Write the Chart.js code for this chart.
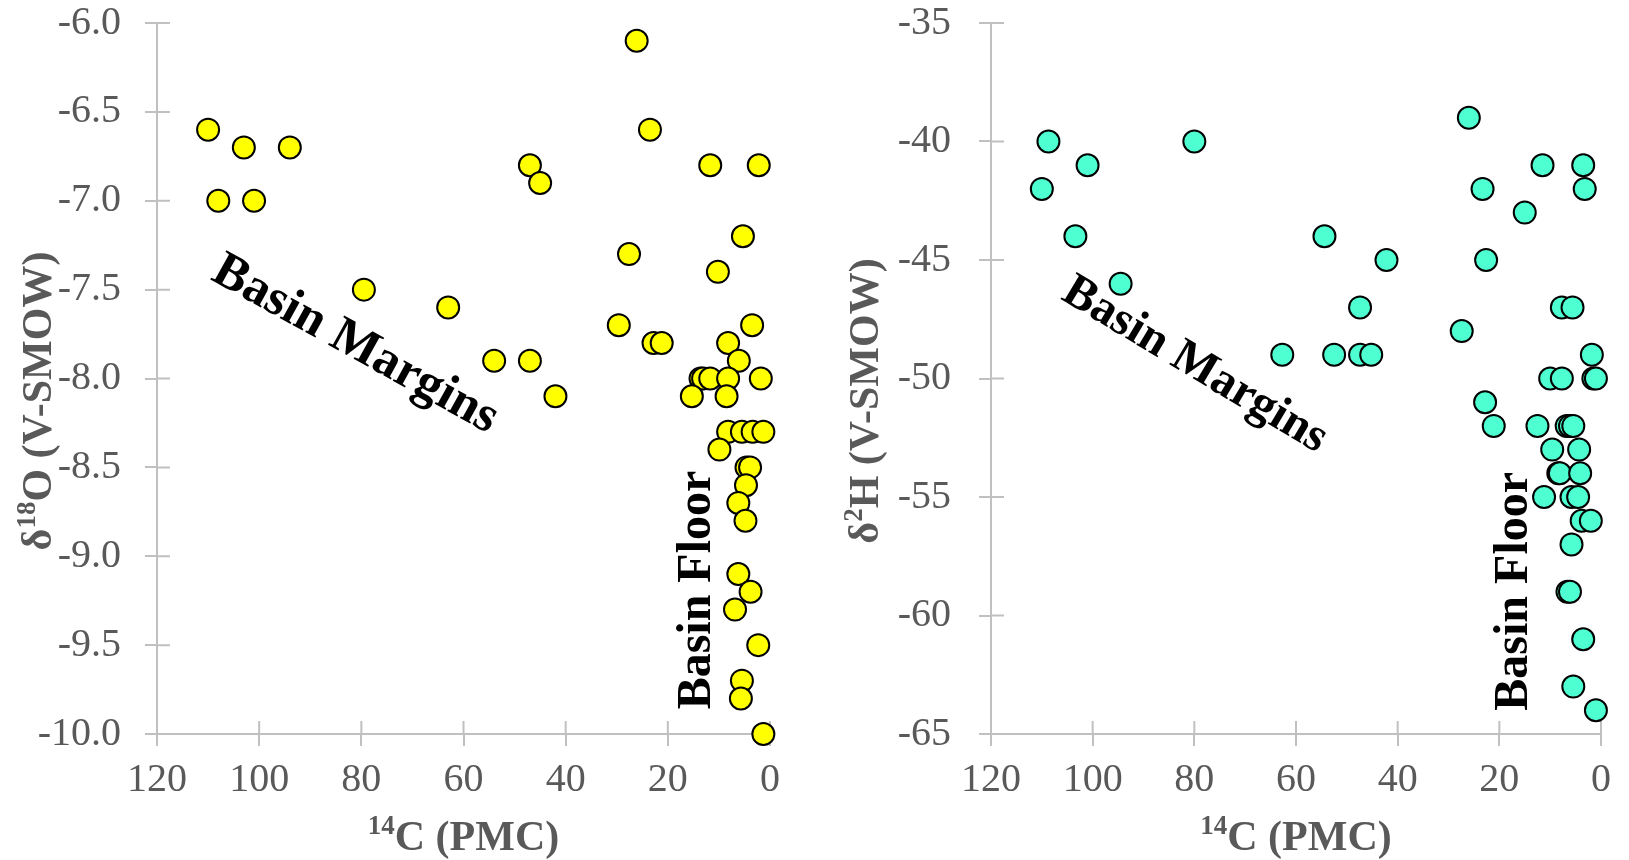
<!DOCTYPE html>
<html>
<head>
<meta charset="utf-8">
<script src="https://cdn.jsdelivr.net/npm/chart.js@4.4.1/dist/chart.umd.min.js"></script>
<style>
  html, body { margin: 0; padding: 0; background: #fff; }
  #wrap { position: relative; width: 1629px; height: 860px; }
  canvas { position: absolute; top: 0; }
</style>
</head>
<body>
<div id="wrap">
  <canvas id="oxygen" width="815" height="860" style="left:0"></canvas>
  <canvas id="deuterium" width="814" height="860" style="left:815px"></canvas>
</div>
<script>
// 14C (PMC) against d18O and d2H
const pmcO = [110, 103, 94, 108, 101, 79.5, 63, 54, 47, 42, 47, 45, 26.1, 23.5, 11.7,
  2.2, 5.3, 27.6, 10.2, 29.6, 3.5, 22.8, 21.2, 8.2, 6.1, 13.6, 13.1, 11.7, 8.2, 1.8,
  15.3, 8.5, 8.2, 5.5, 3.4, 1.3, 9.9, 4.6, 3.9, 4.7, 6.2, 4.8, 6.2, 3.8, 6.85,
  2.3, 5.5, 5.7, 1.3];
const d18O = [-6.6, -6.7, -6.7, -7.0, -7.0, -7.5, -7.6, -7.9, -7.9, -8.1, -6.8, -6.9, -6.1, -6.6, -6.8,
  -6.8, -7.2, -7.3, -7.4, -7.7, -7.7, -7.8, -7.8, -7.8, -7.9, -8.0, -8.0, -8.0, -8.0, -8.0,
  -8.1, -8.1, -8.3, -8.3, -8.3, -8.3, -8.4, -8.5, -8.5, -8.6, -8.7, -8.8, -9.1, -9.2, -9.3,
  -9.5, -9.7, -9.8, -10.0];

const pmcH = [108.7, 101, 110, 103.4, 94.5, 80, 54.4, 42.2, 47.4, 62.7, 52.5, 47.4, 45.2, 26, 11.5,
  3.5, 23.3, 3.2, 15, 22.6, 7.7, 5.6, 27.4, 1.8, 10, 7.7, 1.5, 1.0, 22.8, 21.1,
  12.5, 6.75, 6.1, 5.45, 9.6, 4.3, 8.4, 8.1, 4.1, 11.2, 5.8, 4.5, 3.8, 2.0, 5.8,
  6.6, 6.1, 3.5, 5.45, 1.0];
const d2H = [-40, -41, -42, -44, -46, -40, -44, -45, -47, -49, -49, -49, -49, -39, -41,
  -41, -42, -42, -43, -45, -47, -47, -48, -49, -50, -50, -50, -50, -51, -52,
  -52, -52, -52, -52, -53, -53, -54, -54, -54, -55, -55, -55, -56, -56, -57,
  -59, -59, -61, -63, -64];

const pmcTicks = [120, 100, 80, 60, 40, 20, 0];
const oTicks = [-6.0, -6.5, -7.0, -7.5, -8.0, -8.5, -9.0, -9.5, -10.0];
const hTicks = [-35, -40, -45, -50, -55, -60, -65];

const axisColor = '#c0c0c0';
const labelColor = '#595959';
const serif = "'Liberation Serif', 'Times New Roman', serif";

Chart.defaults.font.family = serif;

// tick marks cross the axis lines, draw the inner half here
const crossTicks = {
  id: 'crossTicks',
  beforeDatasetsDraw(chart) {
    const { ctx, chartArea, scales } = chart;
    ctx.save();
    ctx.strokeStyle = axisColor;
    ctx.lineWidth = 2;
    ctx.beginPath();
    scales.x.ticks.forEach((t, i) => {
      const px = scales.x.getPixelForTick(i);
      ctx.moveTo(px, chartArea.bottom);
      ctx.lineTo(px, chartArea.bottom - 13);
    });
    scales.y.ticks.forEach((t, i) => {
      const py = scales.y.getPixelForTick(i);
      ctx.moveTo(chartArea.left, py);
      ctx.lineTo(chartArea.left + 13, py);
    });
    ctx.stroke();
    ctx.restore();
  }
};

// text with superscript parts, centred on cx, baseline at y
function drawRich(ctx, parts, cx, y) {
  const widths = parts.map(p => {
    ctx.font = 'bold ' + (p[1] ? 27 : 42) + 'px ' + serif;
    return ctx.measureText(p[0]).width;
  });
  let x = cx - widths.reduce((a, b) => a + b, 0) / 2;
  parts.forEach((p, i) => {
    ctx.font = 'bold ' + (p[1] ? 27 : 42) + 'px ' + serif;
    ctx.fillText(p[0], x, p[1] ? y - 16 : y);
    x += widths[i];
  });
}

const isoText = {
  id: 'isoText',
  afterDatasetsDraw(chart, args, opts) {
    const { ctx, chartArea, scales } = chart;
    ctx.save();
    ctx.textAlign = 'left';
    ctx.textBaseline = 'alphabetic';
    ctx.fillStyle = labelColor;
    drawRich(ctx, opts.xTitle, (chartArea.left + chartArea.right) / 2, 850);

    ctx.save();
    ctx.translate(opts.yTitleX, 401);
    ctx.rotate(-Math.PI / 2);
    drawRich(ctx, opts.yTitle, 0, 0);
    ctx.restore();

    ctx.fillStyle = '#000';
    ctx.textAlign = 'center';

    ctx.save();
    ctx.font = 'bold ' + opts.margins[3] + 'px ' + serif;
    ctx.translate(scales.x.getPixelForValue(opts.margins[0]), scales.y.getPixelForValue(opts.margins[1]));
    ctx.rotate(opts.margins[2] * Math.PI / 180);
    ctx.textBaseline = 'middle';
    ctx.fillText('Basin Margins', 0, 0);
    ctx.restore();

    ctx.save();
    ctx.font = 'bold 48px ' + serif;
    ctx.translate(scales.x.getPixelForValue(opts.floor[0]), scales.y.getPixelForValue(opts.floor[1]));
    ctx.rotate(-Math.PI / 2);
    ctx.fillText('Basin Floor', 0, 0);
    ctx.restore();

    ctx.restore();
  }
};

function makeChart(id, xs, ys, yTicks, yFmt, fill, layout) {
  return new Chart(document.getElementById(id), {
    type: 'scatter',
    data: {
      datasets: [{
        data: xs.map((x, i) => ({ x: x, y: ys[i] })),
        backgroundColor: fill,
        borderColor: '#000',
        borderWidth: 2,
        pointRadius: 11,
        pointHoverRadius: 11,
        clip: false
      }]
    },
    options: {
      responsive: false,
      animation: false,
      devicePixelRatio: 1,
      layout: { autoPadding: false, padding: { left: 0, top: 23, right: layout.right, bottom: 0 } },
      plugins: {
        legend: { display: false },
        tooltip: { enabled: false },
        isoText: layout.text
      },
      scales: {
        x: {
          type: 'linear',
          reverse: true,
          min: 0,
          max: 120,
          afterBuildTicks: s => { s.ticks = pmcTicks.map(v => ({ value: v })); },
          afterFit: s => { s.height = 126; s.paddingLeft = 0; s.paddingRight = 0; },
          grid: { drawOnChartArea: false, tickLength: 12, color: axisColor, lineWidth: 2 },
          border: { color: axisColor, width: 2 },
          ticks: { color: labelColor, font: { size: 40 }, padding: 10, maxRotation: 0 }
        },
        y: {
          type: 'linear',
          min: yTicks[yTicks.length - 1],
          max: yTicks[0],
          afterBuildTicks: s => { s.ticks = yTicks.map(v => ({ value: v })); },
          afterFit: s => { s.width = layout.axisWidth; s.paddingTop = 0; s.paddingBottom = 0; },
          grid: { drawOnChartArea: false, tickLength: 12, color: axisColor, lineWidth: 2 },
          border: { color: axisColor, width: 2 },
          ticks: { color: labelColor, font: { size: 40 }, padding: layout.tickPad, callback: yFmt }
        }
      }
    },
    plugins: [crossTicks, isoText]
  });
}

makeChart('oxygen', pmcO, d18O, oTicks, v => v.toFixed(1), '#ffff00', {
  right: 45, axisWidth: 157, tickPad: 24,
  text: {
    xTitle: [['14', true], ['C (PMC)']],
    yTitle: [['δ'], ['18', true], ['O (V-SMOW)']],
    yTitleX: 51,
    margins: [81.2, -7.81, 29, 51],
    floor: [11.7, -9.19]
  }
});

makeChart('deuterium', pmcH, d2H, hTicks, v => v, '#4effd2', {
  right: 28, axisWidth: 176, tickPad: 28,
  text: {
    xTitle: [['14', true], ['C (PMC)']],
    yTitle: [['δ'], ['2', true], ['H (V-SMOW)']],
    yTitleX: 63,
    margins: [79.9, -49.44, 31, 48],
    floor: [14.6, -58.98]
  }
});
</script>
</body>
</html>
